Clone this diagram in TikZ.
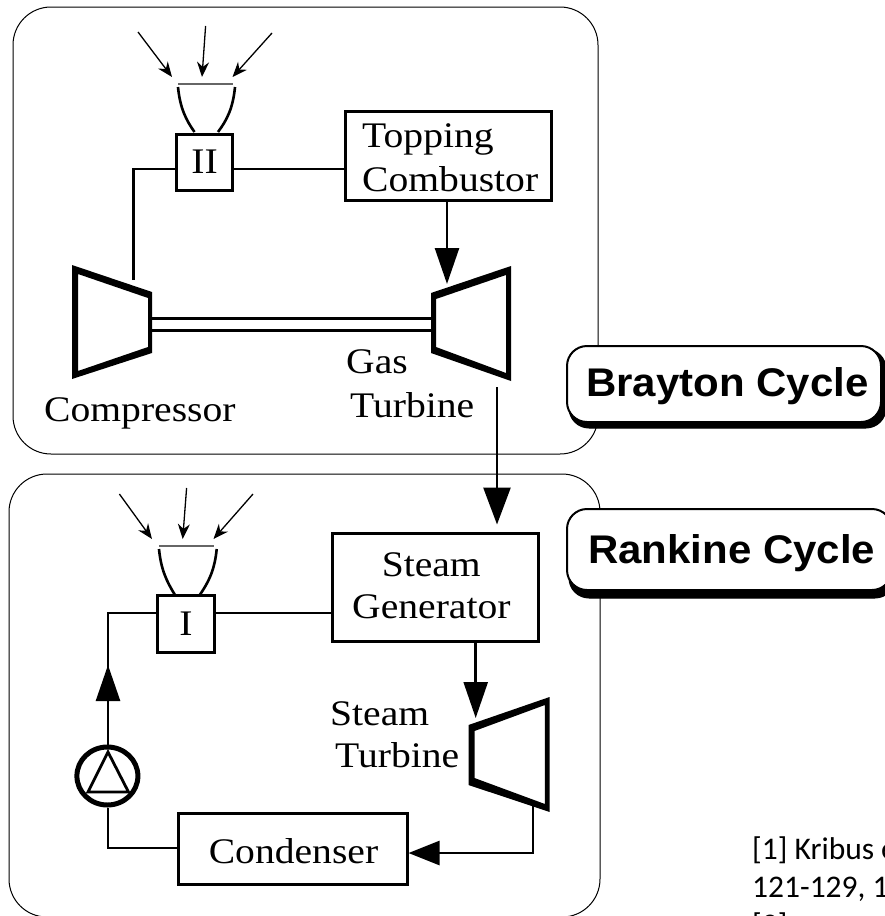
\documentclass[tikz,border=0pt]{standalone}
\usepackage{fontspec}
\setmainfont[FakeStretch=1.1]{Liberation Serif}
\newfontfamily\labelfont[FakeStretch=1.05]{Liberation Sans}
\newfontfamily\notefont{Carlito}
\usetikzlibrary{arrows.meta, positioning, calc, shapes.geometric}

\begin{document}
\begin{tikzpicture}[x=1pt, y=-1pt, line join=miter,
    cyclebox/.style={draw, line width=1pt, rounded corners=38pt},
    unitbox/.style={draw, line width=3pt, inner sep=0pt},
    unitlabel/.style={inner sep=0pt, anchor=base west, font=\fontsize{36}{40}\selectfont},
    cyclelabel/.style={inner sep=0pt, anchor=base west, font=\labelfont\bfseries\fontsize{40}{46}\selectfont},
    notelabel/.style={inner sep=0pt, anchor=base west, font=\notefont\fontsize{31.5}{38}\selectfont},
    pipe/.style={draw, line width=2.6pt},
    flow/.style={pipe, -{Triangle[length=36pt, width=24pt]}},
    ray/.style={draw, line width=1.3pt, -{Stealth[length=15pt, width=12pt]}},
    mirror/.style={draw, line width=2.6pt},
    rim/.style={draw=black!60, line width=1.5pt}]

    % Page frame
    \useasboundingbox (0,0) rectangle (885,916);
    \clip (0,0) rectangle (885,916);

    % Brayton and Rankine frames
    \draw[cyclebox] (13,7) rectangle (598,454);
    \draw[cyclebox] (9,474) rectangle (600,917);

    % Brayton cycle units
    \node[unitbox, minimum width=56pt, minimum height=56pt] (receiverII) at (204.6,162) {};
    \node[unitlabel, anchor=base] (receiverIIlabel) at (204.6,173) {II};
    \node[unitbox, minimum width=206pt, minimum height=89pt] (topping) at (448,155.5) {};
    \node[unitlabel] (toppinglabel) at (362,147) {Topping};
    \node[unitlabel] (combustorlabel) at (362,191) {Combustor};
    \node[unitlabel] (compressorlabel) at (44,421) {Compressor};
    \node[unitlabel] (gaslabel) at (346,373) {Gas};
    \node[unitlabel] (gasturbinelabel) at (350,417) {Turbine};

    % Compressor and gas turbine
    \fill[even odd rule] (72,265) -- (152,292) -- (152,353) -- (72,379) -- cycle
        (78,274) -- (148,298) -- (148,347) -- (78,371) -- cycle;
    \fill[even odd rule] (431,293) -- (511,266) -- (511,381) -- (431,353) -- cycle
        (436,299) -- (506,275) -- (506,373) -- (436,347) -- cycle;
    \coordinate (compressorout) at (133.6,280);
    \coordinate (gasturbinein) at (447,284);
    \coordinate (gasturbineout) at (497,387);
    \draw[line width=2.6pt] (150,318.5) -- (432,318.5);
    \draw[line width=2.2pt] (150,330.5) -- (432,330.5);

    % Brayton concentrator
    \draw[rim] (178,84) -- (232.5,84);
    \draw[mirror] (178,87) .. controls (180,108) and (186,120) .. (194.5,132);
    \draw[mirror] (235,87) .. controls (233,108) and (227,120) .. (218,132);
    \draw[ray] (138,32) -- (172,77);
    \draw[ray] (205.6,26) -- (202,77);
    \draw[ray] (272,33) -- (232.5,77);

    % Brayton connections
    \draw[pipe] (compressorout) |- (receiverII.west |- 0,169);
    \draw[pipe] (receiverII.east |- 0,169) -- (topping.west |- 0,169);
    \draw[flow] (topping.south -| gasturbinein) -- (gasturbinein);

    % Rankine cycle units
    \node[unitbox, minimum width=57pt, minimum height=57pt] (receiverI) at (186,623.5) {};
    \node[unitlabel, anchor=base] (receiverIlabel) at (186,635) {I};
    \node[unitbox, minimum width=206pt, minimum height=108pt] (generator) at (435.5,587) {};
    \node[unitlabel] (steamlabel) at (381.6,576) {Steam};
    \node[unitlabel] (generatorlabel) at (352,618) {Generator};
    \node[unitbox, minimum width=229pt, minimum height=71pt] (condenser) at (292.5,848.5) {};
    \node[unitlabel, anchor=base] (condenserlabel) at (293.5,863) {Condenser};
    \node[unitlabel] (steamturbinetop) at (330,725) {Steam};
    \node[unitlabel] (steamturbinelabel) at (335,767) {Turbine};

    % Steam turbine
    \fill[even odd rule] (468.5,725) -- (549.6,697) -- (549.6,812) -- (468.5,785) -- cycle
        (474.5,731) -- (544.9,705) -- (544.9,804) -- (474.5,778) -- cycle;
    \coordinate (steamturbinein) at (475.7,718);
    \coordinate (steamturbineout) at (533,806);

    % Pump
    \node[draw, ellipse, line width=5pt, minimum width=61pt, minimum height=58pt, inner sep=0pt] (pump) at (107.4,776) {};
    \draw[line width=2.8pt] (108,752) -- (128.5,792) -- (88,792) -- cycle;

    % Rankine concentrator
    \draw[rim] (159,546) -- (213.5,546);
    \draw[mirror] (159,549) .. controls (161,570) and (167,582) .. (175,595);
    \draw[mirror] (216.7,549) .. controls (214.7,570) and (208.7,582) .. (199.7,595);
    \draw[ray] (119.4,494) -- (152,539);
    \draw[ray] (186.6,488) -- (182.7,539);
    \draw[ray] (253,494) -- (213.5,539);

    % Rankine connections
    \coordinate (pumpin) at (108,848);
    \coordinate (lineup) at (108,613);
    \coordinate (flowtip) at (108,665);
    \draw[pipe] (receiverI.west |- lineup) -- (lineup) -- (pump.north -| lineup);
    \draw[flow] (pump.north -| lineup) -- (flowtip);
    \draw[pipe] (receiverI.east |- lineup) -- (generator.west |- lineup);
    \draw[flow] (generator.south -| steamturbinein) -- (steamturbinein);
    \draw[pipe, -{Triangle[length=31pt, width=24pt]}] (steamturbineout) |- (condenser.east |- 0,853);
    \draw[pipe] (pump.south -| pumpin) -- (pumpin) -- (condenser.west |- pumpin);

    % Link between the cycles
    \draw[pipe, -{Triangle[length=37pt, width=27pt]}, shorten >=7pt] (gasturbineout) -- (generator.north -| gasturbineout);

    % Cycle labels
    \draw[fill=black, rounded corners=20pt, line width=1pt] (569,349) rectangle (886,428);
    \draw[fill=white, rounded corners=20pt, line width=2pt] (567,346) rectangle (881,422);
    \node[cyclelabel] (brayton) at (586,396) {Brayton Cycle};
    \draw[fill=black, rounded corners=20pt, line width=1pt] (569,512) rectangle (895,598);
    \draw[fill=white, rounded corners=20pt, line width=2pt] (567,509) rectangle (892,590);
    \node[cyclelabel] (rankine) at (588,563) {Rankine Cycle};

    % Footnote
    \node[notelabel] (noteone) at (752,859) {[1] Kribus e};
    \node[notelabel] (notetwo) at (752,897) {121-129, 1};
    \node[notelabel] (notethree) at (752,935) {[2]};

\end{tikzpicture}
\end{document}
